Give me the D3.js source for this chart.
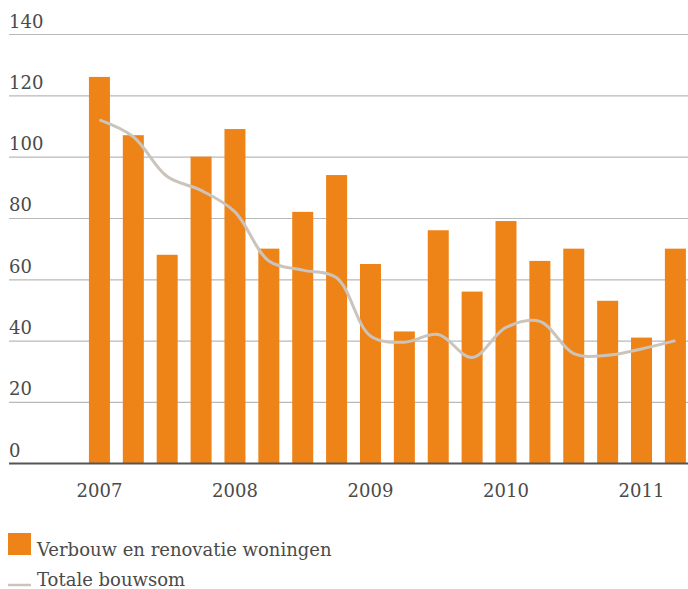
<!DOCTYPE html>
<html>
<head>
<meta charset="utf-8">
<script src="https://cdn.jsdelivr.net/npm/d3@7"></script>
<style>
  body { margin: 0; background: #fff; }
  svg text { font-family: "DejaVu Serif", serif; fill: #4a4a4a; }
</style>
</head>
<body>
<div id="chart"></div>
<script>
// quarters 2007 Q1 .. 2011 Q2
var quarters = ["2007-1","2007-2","2007-3","2007-4","2008-1","2008-2","2008-3","2008-4",
  "2009-1","2009-2","2009-3","2009-4","2010-1","2010-2","2010-3","2010-4","2011-1","2011-2"];
var verbouw = [126, 107, 68, 100, 109, 70, 82, 94, 65, 43, 76, 56, 79, 66, 70, 53, 41, 70];
var totaal = [112, 106.5, 93.5, 89, 82, 66, 63, 60.5, 41.5, 39.5, 42, 34.5, 44.3, 46.3, 35.8, 35.2, 37.3, 40];
var yTicks = [0, 20, 40, 60, 80, 100, 120, 140];
var yearTicks = ["2007-1","2008-1","2009-1","2010-1","2011-1"];
var legendLabels = ["Verbouw en renovatie woningen", "Totale bouwsom"];

var width = 688, height = 589;
var orange = "#ee8418", lineCol = "#cbc4bc";

var svg = d3.select("#chart").append("svg")
  .attr("width", width)
  .attr("height", height);

var y = d3.scaleLinear().domain([0, 140]).range([463.3, 34]);
var x = d3.scaleBand().domain(quarters)
  .range([82.5, 82.5 + 18 * 33.88])
  .paddingInner(0.38)
  .paddingOuter(0.19);

// gridlines + labels
var yAxis = svg.append("g")
  .attr("transform", "translate(9,0)")
  .call(d3.axisRight(y).tickValues(yTicks).tickSize(width - 9).tickFormat(d3.format("d")));
yAxis.select(".domain").remove();
yAxis.selectAll(".tick line")
  .attr("stroke", function(d) { return d === 0 ? "#555" : "#b9b9b9"; })
  .attr("stroke-width", function(d) { return d === 0 ? 1.5 : 1.2; });
yAxis.selectAll(".tick text")
  .attr("x", 0)
  .attr("dy", -7)
  .attr("text-anchor", "start")
  .style("font-size", "18px");

// bars
svg.append("g").selectAll("rect")
  .data(verbouw)
  .enter().append("rect")
  .attr("x", function(d, i) { return x(quarters[i]); })
  .attr("y", function(d) { return y(d); })
  .attr("width", x.bandwidth())
  .attr("height", function(d) { return y(0) - y(d); })
  .attr("fill", orange);

// baseline redrawn on top of bars
svg.append("line")
  .attr("x1", 9).attr("x2", width)
  .attr("y1", y(0)).attr("y2", y(0))
  .attr("stroke", "#555").attr("stroke-width", 1.5);

// line
var line = d3.line()
  .x(function(d, i) { return x(quarters[i]) + x.bandwidth() / 2; })
  .y(function(d) { return y(d); })
  .curve(d3.curveCatmullRom.alpha(0.5));

svg.append("path")
  .datum(totaal)
  .attr("d", line)
  .attr("fill", "none")
  .attr("stroke", lineCol)
  .attr("stroke-width", 3);

// x axis
var xAxis = svg.append("g")
  .attr("transform", "translate(" + (x.bandwidth() / 2) + "," + y(0) + ")")
  .call(d3.axisBottom(x).tickValues(yearTicks).tickSize(0)
    .tickFormat(function(d) { return d.slice(0, 4); }));
xAxis.select(".domain").remove();
xAxis.selectAll(".tick")
  .attr("transform", function(d) { return "translate(" + x(d) + ",0)"; });
xAxis.selectAll(".tick text")
  .attr("y", 34)
  .attr("dy", 0)
  .style("font-size", "18px");

// legend
var legend = svg.append("g");
legend.append("rect")
  .attr("x", 8).attr("y", 533)
  .attr("width", 23).attr("height", 22)
  .attr("fill", orange);
legend.append("line")
  .attr("x1", 8).attr("x2", 31)
  .attr("y1", 585).attr("y2", 585)
  .attr("stroke", lineCol).attr("stroke-width", 2.5);
legend.selectAll("text.lg")
  .data(legendLabels)
  .enter().append("text")
  .attr("class", "lg")
  .attr("x", 37)
  .attr("y", function(d, i) { return 556 + i * 30; })
  .style("font-size", "18px")
  .text(function(d) { return d; });
</script>
</body>
</html>
